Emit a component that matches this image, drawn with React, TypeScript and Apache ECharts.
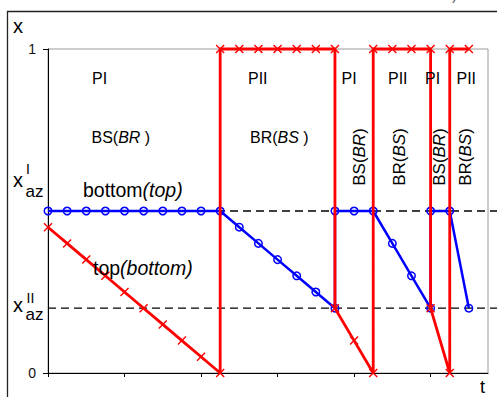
import React, { useEffect, useRef } from 'react';
import * as echarts from 'echarts';

// time steps and concentrations
const redT = [0, 1, 2, 3, 4, 5, 6, 7, 8, 9, 9, 10, 11, 12, 13, 14, 15, 15, 16, 17, 17, 18, 19, 20, 20, 21, 21, 22];
const redX = [0.45, 0.4, 0.35, 0.3, 0.25, 0.2, 0.15, 0.1, 0.05, 0, 1, 1, 1, 1, 1, 1, 1, 0.2, 0.1, 0, 1, 1, 1, 1, 0.2, 0, 1, 1];
const blueT = [0, 1, 2, 3, 4, 5, 6, 7, 8, 9, 10, 11, 12, 13, 14, 15, 15, 16, 17, 18, 19, 20, 20, 21, 22];
const blueX = [0.5, 0.5, 0.5, 0.5, 0.5, 0.5, 0.5, 0.5, 0.5, 0.5, 0.45, 0.4, 0.35, 0.3, 0.25, 0.2, 0.5, 0.5, 0.5, 0.4, 0.3, 0.2, 0.5, 0.5, 0.2];
const xTicks = [0, 4, 8, 12, 16, 20];
const yTicks = [0, 1];
const xAzI = 0.5;
const xAzII = 0.2;
const tMax = 23;

const FF = '"Liberation Sans", Arial, Helvetica, sans-serif';

function lbl(x: number, baseline: number, text: string, size: number, extra: any = {}) {
  return {
    type: 'text',
    x,
    y: baseline - 0.35 * size,
    z: 10,
    style: {
      text,
      fontSize: size,
      fontFamily: FF,
      fill: '#000',
      align: 'left',
      verticalAlign: 'middle',
      rich: {
        i: { fontSize: size, fontFamily: FF, fontStyle: 'italic', fill: '#000' },
      },
      ...extra,
    },
  };
}

function vlbl(cx: number, cy: number, text: string, size: number) {
  return {
    type: 'text',
    x: cx,
    y: cy,
    rotation: Math.PI / 2,
    z: 10,
    style: {
      text,
      fontSize: size,
      fontFamily: FF,
      fill: '#000',
      align: 'center',
      verticalAlign: 'middle',
      rich: {
        i: { fontSize: size, fontFamily: FF, fontStyle: 'italic', fill: '#000' },
      },
    },
  };
}

export default function App() {
  const ref = useRef<HTMLDivElement>(null);
  useEffect(() => {
    if (!ref.current) return;
    const chart = echarts.init(ref.current, null, { renderer: 'svg' });
    const red = redT.map((t, i) => [t, redX[i]]);
    const blue = blueT.map((t, i) => [t, blueX[i]]);
    chart.setOption({
      animation: false,
      backgroundColor: '#fff',
      grid: {
        left: 48,
        right: 9,
        top: 49,
        bottom: 24,
        show: true,
        borderColor: '#9a9a9a',
        borderWidth: 1,
        backgroundColor: 'transparent',
      },
      xAxis: {
        type: 'value',
        min: 0,
        max: tMax,
        interval: 4,
        splitLine: { show: false },
        axisLine: { show: true, onZero: false, lineStyle: { color: '#000', width: 1 } },
        axisTick: { show: true, length: 4, lineStyle: { color: '#000' }, customValues: xTicks },
        axisLabel: { show: false },
      },
      yAxis: {
        type: 'value',
        min: 0,
        max: 1,
        interval: 1,
        splitLine: { show: false },
        axisLine: { show: true, onZero: false, lineStyle: { color: '#000', width: 1 } },
        axisTick: { show: true, length: 5, lineStyle: { color: '#000' }, customValues: yTicks },
        axisLabel: {
          show: true,
          margin: 12,
          fontSize: 14,
          fontFamily: FF,
          color: '#111',
          customValues: yTicks,
        },
      },
      series: [
        {
          type: 'line',
          data: blue,
          z: 3,
          clip: false,
          symbol: 'circle',
          symbolSize: 7.5,
          lineStyle: { color: '#0000ff', width: 2.5 },
          itemStyle: { color: 'rgba(0,0,0,0)', borderColor: '#0000ff', borderWidth: 1.5 },
        },
        {
          type: 'line',
          data: red,
          z: 4,
          clip: false,
          symbol: 'path://M0,0L10,10M10,0L0,10',
          symbolSize: 8,
          lineStyle: { color: '#ff0000', width: 2.8 },
          itemStyle: { color: 'rgba(0,0,0,0)', borderColor: '#ff0000', borderWidth: 1.4 },
        },
      ],
    });

    const p0 = chart.convertToPixel({ gridIndex: 0 }, [0, xAzI]) as number[];
    const p1 = chart.convertToPixel({ gridIndex: 0 }, [0, xAzII]) as number[];

    chart.setOption({
      graphic: [
        {
          type: 'rect',
          z: 0,
          shape: { x: 7.5, y: 11.5, width: 520, height: 420 },
          style: { fill: 'none', stroke: '#222', lineWidth: 1.3 },
        },
        {
          type: 'line',
          z: 1,
          shape: { x1: p0[0], y1: p0[1], x2: 497, y2: p0[1] },
          style: { stroke: '#000', lineWidth: 1.3, lineDash: [8, 5] },
        },
        {
          type: 'line',
          z: 1,
          shape: { x1: p1[0], y1: p1[1], x2: 497, y2: p1[1] },
          style: { stroke: '#000', lineWidth: 1.3, lineDash: [8, 5] },
        },
        lbl(452, 0.5, ')', 16, { fill: '#666' }),
        lbl(13, 32.7, 'x', 20),
        lbl(13, 187.3, 'x', 20),
        lbl(26, 174, 'I', 14),
        lbl(25.5, 197, 'az', 17),
        lbl(13, 311.7, 'x', 20),
        lbl(26.5, 303, 'II', 14),
        lbl(25.5, 320.7, 'az', 17),
        lbl(480, 393.5, 't', 18),
        lbl(92, 84, 'PI', 16),
        lbl(248, 84, 'PII', 16),
        lbl(341.5, 84, 'PI', 16),
        lbl(388, 84, 'PII', 16),
        lbl(425, 84, 'PI', 16),
        lbl(456.5, 84, 'PII', 16),
        lbl(91.5, 143.3, 'BS({i|BR} )', 16),
        lbl(250, 143.3, 'BR({i|BS} )', 16),
        lbl(83, 196.5, 'bottom{i|(top)}', 19.5),
        lbl(93, 274.5, 'top{i|(bottom)}', 19.5),
        vlbl(359, 157, 'BS({i|BR})', 17),
        vlbl(399.5, 157, 'BR({i|BS})', 17),
        vlbl(439.3, 157, 'BS({i|BR})', 17),
        vlbl(465.5, 157, 'BR({i|BS})', 17),
      ],
    });
    return () => chart.dispose();
  }, []);
  return (
    <div
      ref={ref}
      style={{ position: 'fixed', left: 0, top: 0, width: 497, height: 397 }}
    />
  );
}
